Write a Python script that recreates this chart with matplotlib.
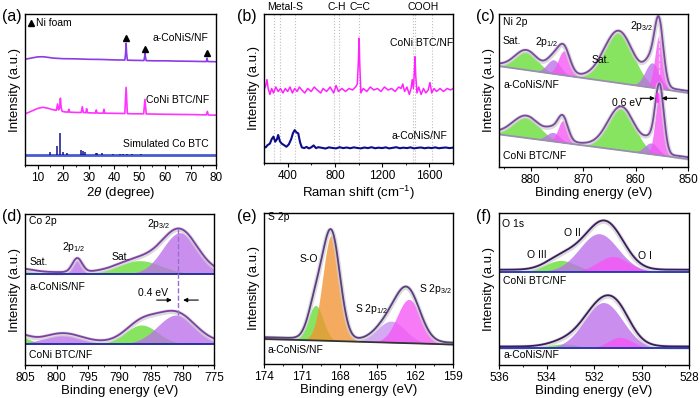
import numpy as np
import matplotlib
matplotlib.use('Agg')
import matplotlib.pyplot as plt
from matplotlib.ticker import MultipleLocator

plt.rcParams['font.family'] = ['Liberation Sans', 'DejaVu Sans']
plt.rcParams['mathtext.fontset'] = 'custom'
plt.rcParams['mathtext.rm'] = 'Liberation Sans'
plt.rcParams['mathtext.it'] = 'Liberation Sans:italic'
plt.rcParams['axes.linewidth'] = 1.0

# ---------------- (a) XRD ----------------
xrd_s_x = [5, 8, 10, 12, 14, 16, 20, 25, 30, 35, 40, 44.2, 44.5, 44.7, 44.9, 45.2, 48, 51.7, 52.0,
           52.1, 52.3, 52.6, 56, 60, 65, 70, 76.2, 76.5, 76.7, 77, 80]
xrd_s_y = [70.0, 71.0, 71.6, 71.7, 71.3, 70.8, 70.4, 70.3, 70.0, 69.9, 69.6, 69.5, 74, 80.6, 74, 69.4,
           69.3, 69.2, 72, 74.0, 71.5, 69.1, 69.0, 69.0, 68.8, 68.7, 68.5, 70.7, 68.6, 68.5, 68.4]
xrd_b_x = [5, 8, 10, 12, 14, 15.5, 17.3, 17.8, 18.2, 18.6, 18.9, 19.2, 19.6, 20.5, 21.9, 22.2, 22.5,
           25, 27.1, 27.5, 27.9, 28.9, 29.2, 29.5, 32.7, 33.0, 33.3, 35.7, 36.0, 36.3, 40, 44.2, 44.7,
           45.2, 48, 51.6, 52.1, 52.6, 56, 60, 70, 76.2, 76.6, 77, 80]
xrd_b_y = [33.8, 36, 37.5, 38.2, 37.6, 36.8, 36.2, 40.4, 36.5, 38, 44.2, 38, 35.5, 35.2, 35.0, 36.9,
           35.0, 34.8, 34.8, 38.6, 34.8, 34.6, 37.3, 34.6, 34.4, 36.4, 34.4, 34.3, 36.9, 34.3, 34.2,
           34.1, 51.4, 34.0, 33.9, 33.9, 43.5, 33.8, 33.7, 33.6, 33.4, 33.2, 35.5, 33.1, 33.0]
sim_base = 6.6
sim_pos = [14.9, 17.5, 18.7, 19.9, 21.6, 26.9, 27.6, 28.7, 32.9, 33.4, 35.4, 39.6, 42.2, 43.6, 45.0, 47.2, 50.5]
sim_top = [8.6, 12.6, 21.0, 8.4, 8.0, 10.0, 9.2, 8.6, 8.0, 7.8, 8.0, 7.2, 7.4, 7.4, 7.2, 7.1, 7.2]
nifoam_x = [44.7, 52.1, 76.6]
nifoam_y = [83.9, 76.6, 74.0]

# ---------------- (b) Raman ----------------
ram_b_x = [200, 215, 225, 235, 250, 265, 280, 300, 320, 340, 360, 380, 400, 420, 440, 460, 480, 500, 520, 545,
           570, 600, 625, 650, 680, 700, 730, 760, 790, 810, 830, 860, 890, 920, 950, 975, 990, 1000, 1005, 1010,
           1020, 1040, 1070, 1100, 1130, 1160, 1190, 1220, 1250, 1280, 1310, 1340, 1360, 1375, 1390, 1410, 1430,
           1445, 1455, 1465, 1472, 1478, 1485, 1495, 1510, 1530, 1550, 1570, 1590, 1605, 1620, 1640, 1660, 1690,
           1720, 1750, 1780, 1800]
ram_b_y = [49, 52, 56, 50, 46, 50, 47, 51, 48, 50, 47, 50, 48, 51, 47, 50, 48, 51, 49, 47,
           50, 48, 51, 49, 47, 50, 48, 51, 47, 52, 48, 50, 48, 50, 49, 51, 53, 70, 83.7, 68,
           47, 50, 48, 51, 49, 50, 48, 51, 49, 50, 48, 51, 50, 53, 48, 51, 46, 50, 56, 50,
           60, 71.3, 58, 47, 51, 46, 50, 47, 49, 54, 47, 50, 48, 50, 48, 50, 49, 50]
ram_s_x = [200, 215, 230, 250, 265, 280, 295, 310, 320, 335, 350, 370, 390, 410, 430, 445, 460, 475, 490, 505,
           520, 540, 560, 580, 600, 620, 640, 660] + list(range(690, 1801, 30))
ram_s_y = [11.0, 10.5, 12.0, 13.0, 16.0, 17.7, 14.3, 16.0, 18.8, 14.5, 13.0, 12.0, 10.9, 12.5, 16.0, 20.0,
           22.1, 20.5, 19.9, 14.0, 10.5, 10.0, 10.8, 9.8, 10.5, 11.8, 10.0, 10.6,
           10.2, 9.7, 10.5, 10.1, 9.8, 10.6, 10.0, 10.4, 9.9, 10.5, 10.1, 9.8, 10.4, 10.0, 10.6, 9.9, 10.3,
           10.0, 10.5, 9.8, 10.2, 10.6, 9.9, 10.3, 10.0, 10.5, 9.8, 10.2, 10.4, 9.9, 10.3, 10.0, 10.5, 9.9,
           10.2, 10.4, 10.0, 10.3]
ram_lines = [285, 335, 462, 793, 835, 1004, 1461, 1478, 1622]
ram_labels = ['Metal-S', 'C-H', 'C=C', 'COOH']
ram_label_x = [378, 818, 1013, 1546]

# ---------------- XPS components: centre (eV), height, FWHM, kind ----------------
ni_top_base = [65.9, 48.5]
ni_top_c = [880.8, 875.6, 873.6, 863.2, 856.8, 855.5]
ni_top_h = [11.9, 9.2, 16.0, 33.0, 16.3, 34.6]
ni_top_w = [5.0, 3.0, 2.6, 6.5, 3.2, 1.9]
ni_bot_base = [21.3, 5.2]
ni_bot_c = [880.8, 875.7, 873.8, 862.7, 857.0, 855.4]
ni_bot_h = [13.4, 5.9, 14.5, 27.5, 7.4, 42.0]
ni_bot_w = [6.0, 3.0, 2.2, 6.0, 3.0, 1.9]
ni_kind = ['g', 'p', 'm', 'g', 'p', 'm']

co_top_base = [60.3, 60.3]
co_top_c = [806.0, 796.7, 786.8, 780.4]
co_top_h = [2.5, 9.2, 8.8, 27.3]
co_top_w = [5.0, 1.8, 8.0, 6.5]
co_top_kind = ['g', 'p', 'g', 'p']
co_bot_base = [13.9, 13.9]
co_bot_c = [806.0, 799.0, 786.5, 781.0]
co_bot_h = [4.9, 6.0, 12.6, 19.2]
co_bot_w = [4.0, 7.0, 6.0, 7.0]
co_bot_kind = ['g', 'p', 'g', 'p']

s_base = [16.6, 12.9]
s_c = [169.9, 168.65, 163.9, 162.5]
s_h = [23.2, 70.0, 14.3, 29.0]
s_w = [1.4, 1.6, 2.6, 2.2]
s_kind = ['g', 'o', 'v', 'm']

o_top_base = [61.5, 61.5]
o_top_c = [533.4, 531.8, 531.2]
o_top_h = [7.3, 24.9, 9.9]
o_top_w = [1.5, 1.9, 1.5]
o_bot_base = [11.0, 11.0]
o_bot_c = [533.3, 531.6, 530.9]
o_bot_h = [2.8, 30.1, 7.2]
o_bot_w = [1.5, 1.9, 1.2]
o_kind = ['g', 'p', 'm']

fill_cols = {'g': '#66dd33', 'p': '#bb70ea', 'm': '#f655f6', 'o': '#f39432', 'v': '#c890f0'}


def gauss(x, c, h, w):
    return h * np.exp(-4 * np.log(2) * ((x - c) / w) ** 2)


def rect(l, t, r, b):
    return [l / 700, 1 - b / 398, (r - l) / 700, (b - t) / 398]


def style(ax, xlim, major, minor, xlabel):
    ax.set_xlim(*xlim)
    ax.set_ylim(0, 100)
    ax.set_yticks([])
    ax.xaxis.set_major_locator(MultipleLocator(major))
    ax.xaxis.set_minor_locator(MultipleLocator(minor))
    ax.tick_params(axis='x', which='major', direction='out', length=3, width=0.8, labelsize=8.5, pad=2)
    ax.tick_params(axis='x', which='minor', direction='out', length=1.5, width=0.6)
    ax.set_xlabel(xlabel, fontsize=9.5, labelpad=1)
    ax.set_ylabel('Intensity (a.u.)', fontsize=9.5, labelpad=3)


def spectrum(ax, xl, xr, base, cens, hts, wids, kinds, env_col, base_col):
    x = np.linspace(xr, xl, 700)
    bl = np.interp(x, [xr, xl], [base[1], base[0]])
    total = bl.copy()
    for c, h, w, k in zip(cens, hts, wids, kinds):
        g = gauss(x, c, h, w)
        ax.fill_between(x, bl, bl + g, color=fill_cols[k], alpha=0.78, lw=0)
        total += g
    ax.plot(x, total + 0.6, color='#cfcfcf', lw=3.5, alpha=0.75)
    ax.plot(x, total + 1.2, color=env_col, lw=1.3)
    ax.plot(x, bl, color=base_col, lw=1.3)


def arrows(ax, a0, a1, b0, b1, y):
    kw = dict(arrowstyle='-|>', color='k', lw=0.8, mutation_scale=6, shrinkA=0, shrinkB=0)
    ax.annotate('', xy=(a1, y), xytext=(a0, y), arrowprops=kw)
    ax.annotate('', xy=(b1, y), xytext=(b0, y), arrowprops=kw)


fig = plt.figure(figsize=(7, 3.98), dpi=100)
tk = dict(fontsize=7.5)

# (a)
ax = fig.add_axes(rect(25, 14, 216, 165))
ax.plot(xrd_s_x, xrd_s_y, color='#8a3ce6', lw=1.2)
ax.plot(xrd_b_x, xrd_b_y, color='#ff33ff', lw=1.2)
ax.axhline(sim_base, color='#4a5ad0', lw=2)
ax.vlines(sim_pos, sim_base, sim_top, color='#12128a', lw=1.1)
ax.plot(nifoam_x, nifoam_y, '^', color='k', ms=4)
ax.plot([7.2], [94.3], '^', color='k', ms=4)
ax.text(9.3, 94.3, 'Ni foam', va='center', **tk)
ax.text(77.2, 84.1, 'a-CoNiS/NF', ha='right', va='center', **tk)
ax.text(77.2, 43, 'CoNi BTC/NF', ha='right', va='center', **tk)
ax.text(77.2, 13.9, 'Simulated Co BTC', ha='right', va='center', **tk)
style(ax, (5, 80), 10, 5, '2$\\mathit{\\theta}$ (degree)')

# (b)
ax = fig.add_axes(rect(264, 14, 453, 163))
for xv in ram_lines:
    ax.axvline(xv, color='#bdbdbd', ls=':', lw=0.8)
ax.plot(ram_b_x, ram_b_y, color='#ff22ff', lw=1.1)
ax.plot(ram_s_x, ram_s_y, color='#0c0c8c', lw=1.5)
for lab, xv in zip(ram_labels, ram_label_x):
    ax.text(xv, 101.5, lab, ha='center', va='bottom', **tk)
ax.text(1267, 80.3, 'CoNi BTC/NF', va='center', **tk)
ax.text(1281, 18.1, 'a-CoNiS/NF', va='center', **tk)
style(ax, (200, 1800), 400, 200, 'Raman shift (cm$^{-1}$)')

# (c)
ax = fig.add_axes(rect(499, 14, 688, 167))
spectrum(ax, 886, 850, ni_top_base, ni_top_c, ni_top_h, ni_top_w, ni_kind, '#7a4a9e', '#9a8fb0')
spectrum(ax, 886, 850, ni_bot_base, ni_bot_c, ni_bot_h, ni_bot_w, ni_kind, '#7a4a9e', '#9a8fb0')
ax.plot([855.5, 855.5], [60.7, 88.9], color='#f8d0f8', ls='--', lw=0.9)
ax.plot([855.85, 855.85], [43, 48], color='#ff33ff', lw=1.8)
arrows(ax, 859.1, 856.3, 852.15, 855.0, 44.9)
ax.text(885.3, 95, 'Ni 2p', va='center', **tk)
ax.text(885.4, 82.6, 'Sat.', va='center', **tk)
ax.text(879.2, 81.6, '2p$_{1/2}$', va='center', **tk)
ax.text(868.4, 70.1, 'Sat.', va='center', **tk)
ax.text(861.0, 92, '2p$_{3/2}$', va='center', **tk)
ax.text(885.2, 53.3, 'a-CoNiS/NF', va='center', **tk)
ax.text(864.5, 42, '0.6 eV', ha='left', va='center', **tk)
ax.text(885.2, 6.9, 'CoNi BTC/NF', va='center', **tk)
style(ax, (886, 850), 10, 5, 'Binding energy (eV)')

# (d)
ax = fig.add_axes(rect(25, 214, 214, 365))
spectrum(ax, 805, 775, co_top_base, co_top_c, co_top_h, co_top_w, co_top_kind, '#7e3fa5', '#1c2a9c')
spectrum(ax, 805, 775, co_bot_base, co_bot_c, co_bot_h, co_bot_w, co_bot_kind, '#7e3fa5', '#1c2a9c')
ax.plot([780.7, 780.7], [33, 91.6], color='#9a6ccf', ls='--', lw=1)
arrows(ax, 784.1, 781.7, 777.5, 779.9, 43)
ax.text(804.3, 95.6, 'Co 2p', va='center', **tk)
ax.text(797.2, 78.4, '2p$_{1/2}$', ha='center', va='center', **tk)
ax.text(804.3, 68.4, 'Sat.', va='center', **tk)
ax.text(791.3, 71.3, 'Sat.', va='center', **tk)
ax.text(785.7, 93.4, '2p$_{3/2}$', va='center', **tk)
ax.text(804.3, 51.4, 'a-CoNiS/NF', va='center', **tk)
ax.text(787.1, 47.5, '0.4 eV', va='center', **tk)
ax.text(804.3, 6.6, 'CoNi BTC/NF', va='center', **tk)
style(ax, (805, 775), 5, 2.5, 'Binding energy (eV)')

# (e)
ax = fig.add_axes(rect(264, 213, 453, 364))
spectrum(ax, 174, 159, s_base, s_c, s_h, s_w, s_kind, '#5b3d82', '#333333')
ax.text(173.7, 97.1, 'S 2p', va='center', **tk)
ax.text(171.2, 69.4, 'S-O', va='center', **tk)
ax.text(166.8, 36.1, 'S 2p$_{1/2}$', va='center', **tk)
ax.text(161.7, 49.9, 'S 2p$_{3/2}$', va='center', **tk)
ax.text(173.7, 9.1, 'a-CoNiS/NF', va='center', **tk)
style(ax, (174, 159), 3, 1.5, 'Binding energy (eV)')

# (f)
ax = fig.add_axes(rect(499, 213, 689, 365))
spectrum(ax, 536, 528, o_top_base, o_top_c, o_top_h, o_top_w, o_kind, '#3b1d5e', '#2233aa')
spectrum(ax, 536, 528, o_bot_base, o_bot_c, o_bot_h, o_bot_w, o_kind, '#3b1d5e', '#2233aa')
ax.text(535.87, 93, 'O 1s', va='center', **tk)
ax.text(532.9, 86.8, 'O II', ha='center', va='center', **tk)
ax.text(534.4, 72.5, 'O III', ha='center', va='center', **tk)
ax.text(529.85, 71.9, 'O I', ha='center', va='center', **tk)
ax.text(535.83, 55.4, 'CoNi BTC/NF', va='center', **tk)
ax.text(535.83, 6.6, 'a-CoNiS/NF', va='center', **tk)
style(ax, (536, 528), 2, 1, 'Binding energy (eV)')

# panel letters
for lab, px, py in [('(a)', 2, 16), ('(b)', 237, 16), ('(c)', 476, 16),
                    ('(d)', 2, 216), ('(e)', 237, 216), ('(f)', 476, 216)]:
    fig.text(px / 700, 1 - py / 398, lab, fontsize=11.5, va='center')

fig.savefig('out.png', dpi=100)
